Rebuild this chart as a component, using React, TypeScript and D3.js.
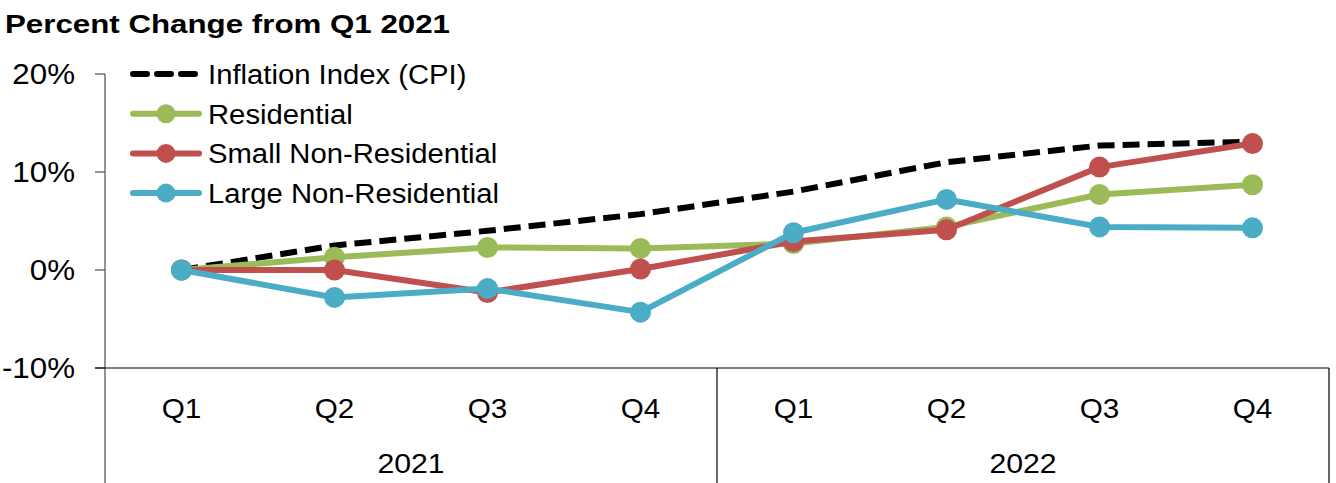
import React from "react";
import * as d3 from "d3";

const quarters = ["Q1", "Q2", "Q3", "Q4", "Q1", "Q2", "Q3", "Q4"];
const years = ["2021", "2022"];
const yTicks = [-10, 0, 10, 20];

const cpi = [0, 2.5, 4.0, 5.7, 8.0, 11.0, 12.7, 13.1];
const residential = [0, 1.3, 2.3, 2.2, 2.7, 4.4, 7.7, 8.7];
const smallNonRes = [0, 0, -2.3, 0.1, 2.9, 4.1, 10.5, 12.9];
const largeNonRes = [0, -2.8, -1.9, -4.3, 3.8, 7.2, 4.4, 4.3];

const seriesNames = ["Inflation Index (CPI)", "Residential", "Small Non-Residential", "Large Non-Residential"];

const W = 1336;
const H = 483;
const left = 105;
const right = 1329;
const font = "Liberation Sans, Arial, sans-serif";
const SX = 1.06;

function T(props: { x: number; y: number; anchor?: string; size: number; sx?: number; children: React.ReactNode }) {
  const { x, y, anchor, size, sx, children } = props;
  return (
    <text
      transform={`translate(${x},${y}) scale(${sx ?? SX},1)`}
      dy="0.36em"
      textAnchor={anchor || "start"}
      fontSize={size}
      fill="#000"
    >
      {children}
    </text>
  );
}

export default function App() {
  const idx = quarters.map((_, i) => i);
  const x = d3.scaleBand<number>().domain(idx).range([left, right]);
  const y = d3.scaleLinear().domain([-10, 20]).range([368, 74]);
  const cx = (i: number) => (x(i) as number) + x.bandwidth() / 2;
  const line = d3
    .line<number>()
    .x((_, i) => cx(i))
    .y((d) => y(d));

  const series = [
    { name: seriesNames[0], data: cpi, color: "#000000", dash: "17,8", marker: false },
    { name: seriesNames[1], data: residential, color: "#9BBB59", dash: null, marker: true },
    { name: seriesNames[2], data: smallNonRes, color: "#C0504D", dash: null, marker: true },
    { name: seriesNames[3], data: largeNonRes, color: "#4BACC6", dash: null, marker: true },
  ];

  const legendY = (i: number) => 74 + i * 39.7;
  const bottom = y(-10);
  const sepX = [left, x(4) as number, right];

  return (
    <svg
      width={W}
      height={H}
      style={{ position: "absolute", left: 0, top: 0, background: "#fff" }}
      fontFamily={font}
    >
      <text x={5} y={33} fontSize={26} fontWeight="bold" fill="#000" textLength={445} lengthAdjust="spacingAndGlyphs">
        Percent Change from Q1 2021
      </text>

      {/* y axis */}
      <line x1={left} x2={left} y1={y(20)} y2={H} stroke="#595959" strokeWidth={1.3} />
      {yTicks.map((t) => (
        <g key={t}>
          <line x1={95} x2={left} y1={y(t)} y2={y(t)} stroke="#595959" strokeWidth={1.3} />
          <T x={75} y={y(t)} anchor="end" size={29} sx={1.08}>
            {t}%
          </T>
        </g>
      ))}

      {/* x axis */}
      <line x1={95} x2={right} y1={bottom} y2={bottom} stroke="#000" strokeWidth={1.2} />
      {sepX.slice(1).map((sx, i) => (
        <line key={i} x1={sx} x2={sx} y1={bottom} y2={H} stroke="#000" strokeWidth={1.2} />
      ))}
      {quarters.map((q, i) => (
        <T key={i} x={cx(i)} y={408} anchor="middle" size={28}>
          {q}
        </T>
      ))}
      {years.map((yr, i) => (
        <T key={yr} x={(sepX[i] + sepX[i + 1]) / 2} y={463} anchor="middle" size={28} sx={1.08}>
          {yr}
        </T>
      ))}

      {/* series */}
      {series.map((s) => (
        <g key={s.name}>
          <path
            d={line(s.data) || ""}
            fill="none"
            stroke={s.color}
            strokeWidth={6}
            strokeDasharray={s.dash || undefined}
            strokeLinejoin="round"
          />
          {s.marker &&
            s.data.map((v, i) => <circle key={i} cx={cx(i)} cy={y(v)} r={10.5} fill={s.color} />)}
        </g>
      ))}

      {/* legend */}
      {series.map((s, i) => (
        <g key={"lg" + s.name}>
          <line
            x1={133}
            x2={199}
            y1={legendY(i)}
            y2={legendY(i)}
            stroke={s.color}
            strokeWidth={6}
            strokeLinecap="round"
            strokeDasharray={s.dash ? "14,10" : undefined}
          />
          {s.marker && <circle cx={166} cy={legendY(i)} r={9.5} fill={s.color} />}
          <T x={208} y={legendY(i)} size={28} sx={1.045}>
            {s.name}
          </T>
        </g>
      ))}
    </svg>
  );
}
